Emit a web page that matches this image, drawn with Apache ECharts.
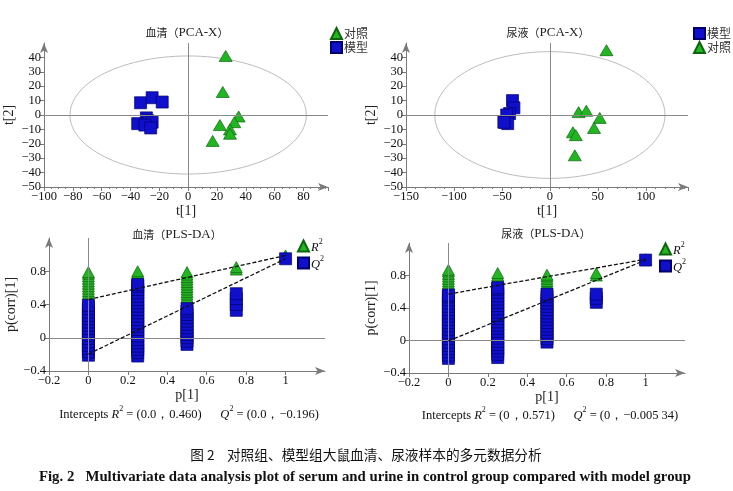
<!DOCTYPE html>
<html><head><meta charset="utf-8">
<script src="https://cdn.jsdelivr.net/npm/echarts@6/dist/echarts.min.js"></script>
<style>html,body{margin:0;padding:0;background:#fff}#c{width:733px;height:491px}</style>
</head><body><div id="c"></div>
<script>
// ---- PCA-X scores (t[1], t[2]) ----
const serumControl = [[26,41],[24,16],[35,-1],[32,-5],[22,-7],[29,-10],[29,-13],[17,-18]];
const serumModel = [[-33,8.5],[-25,12],[-18,9],[-29,-2],[-28,-4],[-35,-6],[-25,-5],[-30,-7],[-26,-9]];
const urineModel = [[-39,10],[-37.5,5],[-42,1],[-45,0],[-47,-5],[-44,-6],[-48,-5]];
const urineControl = [[59,45],[30,2],[38,3],[52,-2],[46,-9],[24,-12],[27,-14],[26,-28]];
// Hotelling T2 ellipse semi-axes (t[1], t[2])
const serumEllipse = [82, 41];
const urineEllipse = [120, 44];

// ---- PLS-DA permutation test ----
const permX = [0, 0.25, 0.5, 0.75, 1];
const serumR2 = [
  [0.50,0.53,0.56,0.59,0.62,0.65,0.68,0.71,0.74,0.77,0.79],
  [0.72,0.74,0.76,0.78,0.80],
  [0.49,0.52,0.55,0.58,0.61,0.64,0.67,0.70,0.73,0.76,0.79],
  [0.82,0.85],
  [0.99]
];
const serumQ2 = [
  [-0.21,-0.17,-0.13,-0.09,-0.05,-0.01,0.03,0.07,0.11,0.15,0.19,0.23,0.27,0.31,0.35,0.39],
  [-0.22,-0.18,-0.14,-0.10,-0.06,-0.02,0.02,0.06,0.10,0.14,0.18,0.22,0.26,0.30,0.34,0.38,0.42,0.46,0.50,0.54,0.58,0.62,0.64],
  [-0.08,-0.04,0.00,0.04,0.08,0.12,0.16,0.20,0.24,0.28,0.32,0.35],
  [0.33,0.40,0.47,0.53],
  [0.95]
];
const urineR2 = [
  [0.70,0.73,0.76,0.79,0.82,0.85,0.87],
  [0.76,0.78,0.80,0.83],
  [0.70,0.73,0.76,0.79,0.81],
  [0.80,0.83],
  [1.00]
];
const urineQ2 = [
  [-0.22,-0.18,-0.14,-0.10,-0.06,-0.02,0.02,0.06,0.10,0.14,0.18,0.22,0.26,0.30,0.34,0.38,0.42,0.46,0.50,0.54,0.56],
  [-0.21,-0.17,-0.13,-0.09,-0.05,-0.01,0.03,0.07,0.11,0.15,0.19,0.23,0.27,0.31,0.35,0.39,0.43,0.47,0.51,0.55,0.59,0.63,0.65],
  [-0.02,0.02,0.06,0.10,0.14,0.18,0.22,0.26,0.30,0.34,0.38,0.42,0.46,0.50,0.54,0.57],
  [0.47,0.52,0.57],
  [0.99]
];
// intercept regression lines: [x, y]
const serumR2Line = [[0, 0.460], [1, 0.99]];
const serumQ2Line = [[0, -0.196], [1, 0.95]];
const urineR2Line = [[0, 0.571], [1, 1.00]];
const urineQ2Line = [[0, -0.00534], [1, 0.99]];

// ---- text ----
const titles = ['血清（PCA-X）', '尿液（PCA-X）', '血清（PLS-DA）', '尿液（PLS-DA）'];
const captionCN = '图 2    对照组、模型组大鼠血清、尿液样本的多元数据分析';
const captionEN = 'Fig. 2   Multivariate data analysis plot of serum and urine in control group compared with model group';

const SERIF = '"Liberation Serif", "Times New Roman", serif';
const CJK = '"Noto Sans CJK SC", sans-serif';
const GREEN = '#22b522', GREEN_B = '#0d640d';
const BLUE = '#1010cc', BLUE_B = '#00006a';
const AXIS = '#7a7a7a';

function ellipsePts(ab) {
  const pts = [];
  for (let i = 0; i <= 120; i++) {
    const a = i / 120 * Math.PI * 2;
    pts.push([ab[0] * Math.cos(a), ab[1] * Math.sin(a)]);
  }
  return pts;
}
function perm(vals) {
  const out = [];
  vals.forEach((arr, i) => arr.forEach(v => out.push([permX[i], v])));
  return out;
}
const fmt = v => { const s = String(+(+v).toFixed(3)); return s.replace('-', '−'); };

function xAx(grid, min, max, interval, name, gap, minor) {
  return {
    type: 'value', gridIndex: grid, min, max, interval, name, nameLocation: 'middle', nameGap: gap,
    nameTextStyle: { fontFamily: SERIF, fontSize: 14, color: '#222' },
    axisLine: { onZero: false, lineStyle: { color: AXIS, width: 1 }, symbol: ['none', 'arrow'], symbolSize: [6, 10] },
    axisTick: { show: true, inside: false, length: 4, lineStyle: { color: AXIS } },
    minorTick: { show: !!minor, splitNumber: minor || 5, length: 2, lineStyle: { color: AXIS } },
    axisLabel: { fontFamily: SERIF, fontSize: 12.5, color: '#111', margin: 3, formatter: fmt, showMaxLabel: false },
    splitLine: { show: false }
  };
}
function yAx(grid, min, max, interval, name, gap) {
  return {
    type: 'value', gridIndex: grid, min, max, interval, name, nameLocation: 'middle', nameGap: gap,
    nameTextStyle: { fontFamily: SERIF, fontSize: 14, color: '#222' },
    axisLine: { onZero: false, lineStyle: { color: AXIS, width: 1 }, symbol: ['none', 'arrow'], symbolSize: [6, 10] },
    axisTick: { show: true, inside: false, length: 4, lineStyle: { color: AXIS } },
    axisLabel: { fontFamily: SERIF, fontSize: 12.5, color: '#111', margin: 3, formatter: fmt, showMaxLabel: false },
    splitLine: { show: false }
  };
}
function zeroLines(i) {
  return {
    type: 'line', xAxisIndex: i, yAxisIndex: i, data: [], silent: true,
    markLine: { silent: true, symbol: ['none', 'none'], label: { show: false },
      lineStyle: { color: '#8a8a8a', type: 'solid', width: 1 },
      emphasis: { disabled: true },
      data: [{ xAxis: 0 }, { yAxis: 0 }] }
  };
}
function tri(name, i, data, size) {
  return { name, type: 'scatter', xAxisIndex: i, yAxisIndex: i, data, symbol: 'triangle', symbolSize: size,
    itemStyle: { color: GREEN, borderColor: GREEN_B, borderWidth: 0.7, opacity: 1 }, z: 3 };
}
function sq(name, i, data, size) {
  return { name, type: 'scatter', xAxisIndex: i, yAxisIndex: i, data, symbol: 'rect', symbolSize: size,
    itemStyle: { color: BLUE, borderColor: BLUE_B, borderWidth: 0.7, opacity: 1 }, z: 4 };
}
function ell(i, ab) {
  return { type: 'line', xAxisIndex: i, yAxisIndex: i, data: ellipsePts(ab), showSymbol: false, silent: true,
    lineStyle: { color: '#bcbcbc', width: 1 }, z: 1 };
}
function dash(i, data) {
  return { type: 'line', xAxisIndex: i, yAxisIndex: i, data, showSymbol: false, silent: true,
    lineStyle: { color: '#111', width: 1.3, type: [4, 2] }, z: 6 };
}
function titleRich(t, x, y) {
  const m = t.match(/^(.*?（)(.*)(）)$/);
  return { type: 'text', x, y, silent: true, style: {
    text: '{c|' + m[1] + '}{e|' + m[2] + '}{c|' + m[3] + '}', textAlign: 'center', textVerticalAlign: 'middle',
    rich: { c: { fontFamily: CJK, fontSize: 11, fill: '#222' }, e: { fontFamily: SERIF, fontSize: 13, fill: '#222' } } } };
}
const supRich = {
  n: { fontFamily: SERIF, fontSize: 12.5, fill: '#111', color: '#111', lineHeight: 16, verticalAlign: 'bottom' },
  i: { fontFamily: SERIF, fontSize: 12.5, fontStyle: 'italic', fill: '#111', color: '#111', lineHeight: 16, verticalAlign: 'bottom' },
  s: { fontFamily: SERIF, fontSize: 8, fill: '#111', color: '#111', lineHeight: 16, verticalAlign: 'top' }
};
function interceptText(x, y, r2, q2) {
  return { type: 'text', x, y, silent: true, style: {
    text: '{n|Intercepts }{i|R}{s|2}{n| = (' + r2 + ')      }{i|Q}{s|2}{n| = (' + q2 + ')}',
    textAlign: 'center', textVerticalAlign: 'middle', rich: supRich } };
}
function legendOf(data, left, top, rich) {
  return {
    data, left, top, orient: 'vertical', itemWidth: 11, itemHeight: 11, itemGap: 1,
    textStyle: rich ? { rich: supRich, padding: [0, 0, 0, -3] } : { fontFamily: CJK, fontSize: 12, color: '#333', padding: [0, 0, 0, -3], lineHeight: 13 },
    formatter: rich ? (n => n === 'R2' ? '{i|R}{s|2}' : '{i|Q}{s|2}') : undefined,
    selectedMode: false
  };
}

const option = {
  animation: false,
  backgroundColor: '#fff',
  grid: [
    { left: 44, top: 43, width: 284, height: 144 },
    { left: 406, top: 43, width: 282, height: 144 },
    { left: 49, top: 238, width: 276, height: 133 },
    { left: 409, top: 243, width: 276, height: 130 }
  ],
  xAxis: [
    xAx(0, -100, 97, 20, 't[1]', 17, 4),
    xAx(1, -150, 144, 50, 't[1]', 17, 5),
    xAx(2, -0.2, 1.2, 0.2, 'p[1]', 16, 0),
    xAx(3, -0.2, 1.2, 0.2, 'p[1]', 16, 0)
  ],
  yAxis: [
    yAx(0, -50, 50, 10, 't[2]', 28),
    yAx(1, -50, 50, 10, 't[2]', 28),
    yAx(2, -0.4, 1.2, 0.4, 'p(corr)[1]', 31),
    yAx(3, -0.4, 1.2, 0.4, 'p(corr)[1]', 31)
  ],
  legend: [
    legendOf(['对照', '模型'], 325, 22, false),
    legendOf(['模型', '对照'], 688, 22, false),
    legendOf(['R2', 'Q2'], 292, 233, true),
    legendOf(['R2', 'Q2'], 654, 236, true)
  ],
  series: [
    ell(0, serumEllipse), zeroLines(0),
    tri('对照', 0, serumControl, [13, 11]), sq('模型', 0, serumModel, 12),
    ell(1, urineEllipse), zeroLines(1),
    sq('模型', 1, urineModel, 12), tri('对照', 1, urineControl, [13, 11]),
    zeroLines(2),
    tri('R2', 2, perm(serumR2), [12, 11]), sq('Q2', 2, perm(serumQ2), 12),
    dash(2, serumR2Line), dash(2, serumQ2Line),
    zeroLines(3),
    tri('R2', 3, perm(urineR2), [12, 11]), sq('Q2', 3, perm(urineQ2), 12),
    dash(3, urineR2Line), dash(3, urineQ2Line)
  ],
  graphic: [
    titleRich(titles[0], 187, 33),
    titleRich(titles[1], 548, 33),
    titleRich(titles[2], 177, 235),
    titleRich(titles[3], 546, 234),
    interceptText(189, 413, '0.0，0.460', '0.0，−0.196'),
    interceptText(550, 414, '0，0.571', '0，−0.005 34'),
    { type: 'text', x: 366, y: 455, silent: true, style: { text: captionCN, textAlign: 'center', textVerticalAlign: 'middle',
      font: '13.7px ' + CJK, fill: '#111' } },
    { type: 'text', x: 365, y: 477, silent: true, style: { text: captionEN, textAlign: 'center', textVerticalAlign: 'middle',
      font: 'bold 14.8px ' + SERIF, fill: '#111' } }
  ]
};
const chart = echarts.init(document.getElementById('c'), null, { renderer: 'canvas' });
chart.setOption(option);
</script></body></html>
